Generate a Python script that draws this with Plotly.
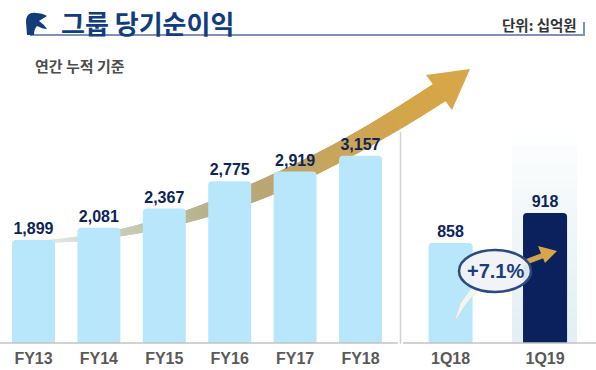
import numpy as np
import plotly.graph_objects as go

# ---------------- data ----------------
annual_categories = ["FY13", "FY14", "FY15", "FY16", "FY17", "FY18"]
annual_values = [1899, 2081, 2367, 2775, 2919, 3157]
quarter_categories = ["1Q18", "1Q19"]
quarter_values = [858, 918]
growth_label = "+7.1%"
title_text = "그룹 당기순이익"
subtitle_text = "연간 누적 기준"
unit_text = "단위: 십억원"

# ---------------- helpers ----------------
W, H = 596, 370
def px(x):
    return x / W
def py(y):
    return 1 - y / H
def poly_path(points):
    return "M " + " L ".join(f"{px(a):.5f},{py(b):.5f}" for a, b in points) + " Z"

LIGHT = "#b8e7fb"
NAVY = "#0a215e"
LABEL = "#0d2456"
FONT = "Arial, Liberation Sans, sans-serif"
KFONT = "Noto Sans CJK KR, sans-serif"

fig = go.Figure()

fig.add_trace(go.Bar(
    x=annual_categories, y=annual_values, xaxis="x", yaxis="y",
    marker=dict(color=LIGHT, cornerradius=4, line=dict(width=0)),
    texttemplate="<b>%{y:,}</b>", textposition="outside", cliponaxis=False,
    textfont=dict(family=FONT, size=16, color=LABEL), hoverinfo="skip",
))
fig.add_trace(go.Bar(
    x=quarter_categories, y=quarter_values, xaxis="x2", yaxis="y2", width=0.466,
    marker=dict(color=[LIGHT, NAVY], cornerradius=4, line=dict(width=0)),
    texttemplate="<b>%{y:,}</b>", textposition="outside", cliponaxis=False,
    textfont=dict(family=FONT, size=16, color=LABEL), hoverinfo="skip",
))

ybot, ytop = py(343), py(40)
tickfont = dict(family=FONT, size=16, color="#595959", weight="bold")
fig.update_layout(
    width=W, height=H, margin=dict(l=0, r=0, t=0, b=0),
    paper_bgcolor="white", plot_bgcolor="rgba(0,0,0,0)",
    showlegend=False, barmode="group",
    xaxis=dict(domain=[px(0.8), px(393.2)], showline=False, showgrid=False, zeroline=False,
               ticks="", tickfont=tickfont, fixedrange=True),
    yaxis=dict(domain=[ybot, ytop], range=[361, 361 + 303 / 0.067], visible=False, fixedrange=True),
    xaxis2=dict(domain=[px(403.3), px(592.3)], anchor="y2", showline=False, showgrid=False,
                zeroline=False, ticks="", tickfont=tickfont, fixedrange=True),
    yaxis2=dict(domain=[ybot, ytop], anchor="x2", range=[658, 658 + 303 / 0.5], visible=False,
                fixedrange=True),
    bargap=0.343,
)
fig.update_xaxes(ticklabelstandoff=4)

shapes = []

# light panel behind 1Q19 (vertical fade)
nb = 24
top_p, bot_p = 138, 343
for i in range(nb):
    y0 = top_p + (bot_p - top_p) * i / nb
    y1 = top_p + (bot_p - top_p) * (i + 1) / nb + 0.6
    t = (i + 0.5) / nb
    c0, c1 = np.array([255, 255, 255]), np.array([226, 240, 243])
    c = (c0 + (c1 - c0) * t ** 0.8).astype(int)
    shapes.append(dict(type="rect", xref="paper", yref="paper", layer="below",
                       x0=px(512), x1=px(577), y0=py(y1), y1=py(y0),
                       fillcolor=f"rgb({c[0]},{c[1]},{c[2]})", line=dict(width=0)))

# big curved gradient arrow (decoration)
guide = np.array([(40, 242, 2), (55, 241, 3), (77, 238, 5), (121, 234, 7), (142, 228, 9),
                  (187, 215, 12), (208, 209, 14), (252, 196, 18), (274, 184, 19),
                  (317, 164, 19), (339, 151, 19), (382, 128, 20), (442, 91, 21)], float)
coef = np.polyfit(guide[:, 0], guide[:, 1], 3)
dcoef = np.polyder(coef)
xs = np.linspace(40, 442, 60)
ys = np.polyval(coef, xs)
th = np.interp(xs, guide[:, 0], guide[:, 2])
slope = np.polyval(dcoef, xs)
nx, ny = -slope / np.sqrt(1 + slope ** 2), 1 / np.sqrt(1 + slope ** 2)
L = np.c_[xs + nx * th / 2, ys + ny * th / 2]
R = np.c_[xs - nx * th / 2, ys - ny * th / 2]
stops_x = [40, 121, 200, 263, 330, 400, 442]
stops_c = np.array([(232, 238, 238), (203, 206, 186), (184, 180, 143), (186, 166, 117),
                    (200, 165, 94), (211, 166, 76), (214, 166, 72)], float)
for i in range(len(xs) - 1):
    j = min(i + 2, len(xs) - 1)
    xm = (xs[i] + xs[j]) / 2
    c = [int(np.interp(xm, stops_x, stops_c[:, k])) for k in range(3)]
    shapes.append(dict(type="path", path=poly_path([L[i], L[j], R[j], R[i]]),
                       xref="paper", yref="paper", layer="below",
                       fillcolor=f"rgb({c[0]},{c[1]},{c[2]})", line=dict(width=0)))
shapes.append(dict(type="path", xref="paper", yref="paper", layer="below",
                   path=poly_path([(426, 75), (470, 69), (452, 110)]),
                   fillcolor="rgb(214,166,72)", line=dict(width=0)))

# baselines and separator
line_c = "#c3c3c3"
shapes += [
    dict(type="line", xref="paper", yref="paper", x0=px(0), x1=px(398), y0=py(343), y1=py(343),
         line=dict(color=line_c, width=1.5)),
    dict(type="line", xref="paper", yref="paper", x0=px(403), x1=px(596), y0=py(343), y1=py(343),
         line=dict(color=line_c, width=1.5)),
    dict(type="line", xref="paper", yref="paper", x0=px(400.5), x1=px(400.5), y0=py(132), y1=py(344),
         line=dict(color="#d3d3d3", width=1.5)),
]

# swoosh tail (light) + small arrow
sw = [(455, 320), (460, 304), (470, 290), (484, 278), (500, 268), (508, 266), (508, 270),
      (492, 279), (478, 290), (466, 304), (456, 320)]
shapes.append(dict(type="path", xref="paper", yref="paper", layer="above",
                   path=poly_path(sw), fillcolor="rgba(246,246,240,0.95)",
                   line=dict(color="rgba(200,200,190,0.5)", width=0.6)))
shapes.append(dict(type="path", xref="paper", yref="paper", layer="above",
                   path=poly_path([(521, 261), (542, 253), (544, 258), (523, 266)]),
                   fillcolor="rgb(205,164,82)", line=dict(width=0)))
shapes.append(dict(type="path", xref="paper", yref="paper", layer="above",
                   path=poly_path([(538, 246), (557, 251), (545, 263)]),
                   fillcolor="rgb(214,166,72)", line=dict(width=0)))
# ellipse
shapes.append(dict(type="circle", xref="paper", yref="paper", layer="above",
                   x0=px(459), x1=px(531), y0=py(292), y1=py(250),
                   fillcolor="rgba(240,242,245,0.93)", line=dict(color="#2c4a7f", width=2.5)))

# title underline & tick
shapes += [
    dict(type="line", xref="paper", yref="paper", x0=px(30), x1=px(585), y0=py(35), y1=py(35),
         line=dict(color="#7d93b2", width=2)),
    dict(type="line", xref="paper", yref="paper", x0=px(584), x1=px(584), y0=py(22), y1=py(36),
         line=dict(color="#7d93b2", width=2)),
]
# title icon (approximate logo)
def P(x, y):
    return f"{px(x):.5f},{py(y):.5f}"
p = (f"M {P(27, 35)} L {P(26, 22)} C {P(26, 15)} {P(30, 12)} {P(36, 13)} "
     f"C {P(40, 13)} {P(44, 14)} {P(47, 16)} L {P(39, 21)} "
     f"C {P(42, 23)} {P(45, 26)} {P(47, 29)} C {P(43, 29)} {P(40, 27)} {P(37, 26)} "
     f"C {P(35, 28)} {P(34, 31)} {P(34, 35)} Z")
shapes.append(dict(type="path", xref="paper", yref="paper", path=p,
                   fillcolor="#123d78", line=dict(width=0)))

fig.update_layout(shapes=shapes)

annotations = [
    dict(text=f"<b>{title_text}</b>", x=px(59), y=py(22), xanchor="left", yanchor="middle",
         font=dict(family=KFONT, size=26, color="#123d7c")),
    dict(text=f"<b>{unit_text}</b>", x=px(579), y=py(25), xanchor="right", yanchor="middle",
         font=dict(family=KFONT, size=14.5, color="#333333")),
    dict(text=f"<b>{subtitle_text}</b>", x=px(33), y=py(65), xanchor="left", yanchor="middle",
         font=dict(family=KFONT, size=15, color="#4d4d4d")),
    dict(text=f"<b>{growth_label}</b>", x=px(495), y=py(271), xanchor="center", yanchor="middle",
         font=dict(family=FONT, size=20, color="#1a3d7c")),
]
for a in annotations:
    a.update(xref="paper", yref="paper", showarrow=False)
fig.update_layout(annotations=annotations)

fig.write_html("out.html", config={"displayModeBar": False},
               post_script="document.body.style.margin='0';")
